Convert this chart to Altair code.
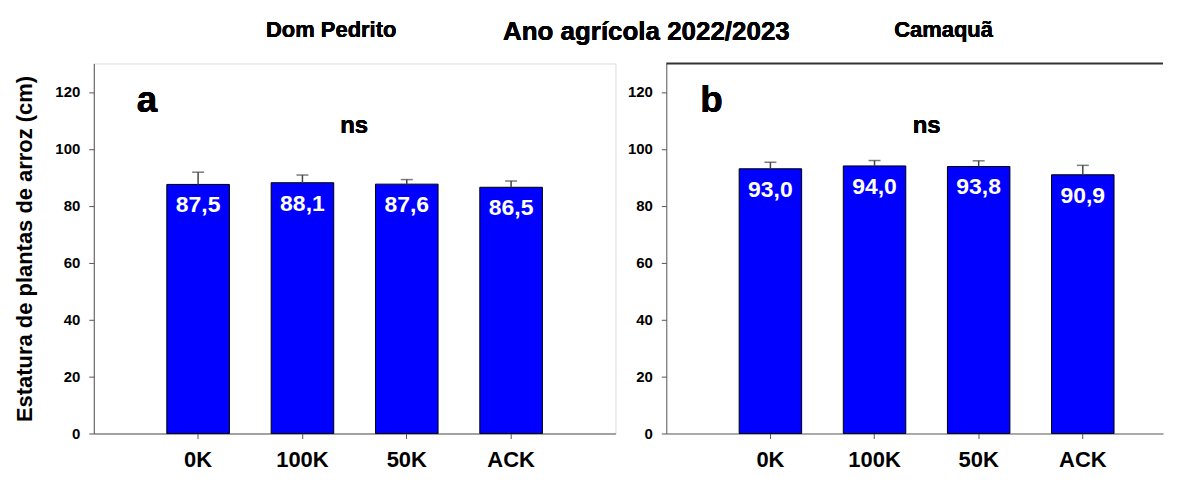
import altair as alt
import pandas as pd

categories = ["0K", "100K", "50K", "ACK"]
dp_values = [87.5, 88.1, 87.6, 86.5]
dp_errors = [4.3, 2.7, 1.6, 2.2]
cq_values = [93.0, 94.0, 93.8, 90.9]
cq_errors = [2.3, 1.9, 2.0, 3.3]
y_ticks = [0, 20, 40, 60, 80, 100, 120]

FONT = "Liberation Sans"
H = 371
W_LEFT = 523
W_RIGHT = 498


def panel(values, errors, letter, width, pad_outer, align, show_title, extra_titles):
    df = pd.DataFrame({
        "cat": categories,
        "val": values,
        "top": [v + e for v, e in zip(values, errors)],
        "label": [f"{v:.1f}".replace(".", ",") for v in values],
    })
    xscale = alt.Scale(domain=categories, paddingInner=0.4, paddingOuter=pad_outer, align=align)
    yscale = alt.Scale(domain=[0, 130], nice=False, zero=True)
    x = alt.X("cat:N", scale=xscale, sort=categories,
              axis=alt.Axis(title=None, labelAngle=0, labelFont=FONT, labelFontSize=22,
                            labelFontWeight="bold", labelColor="black", labelPadding=11,
                            tickSize=5, tickColor="#555", domainColor="#555", grid=False))
    yaxis = alt.Axis(values=y_ticks, labelFont=FONT, labelFontSize=15, labelFontWeight="bold",
                     labelColor="black", labelPadding=9, tickSize=5, tickColor="#555",
                     domainColor="#555", grid=False,
                     title="Estatura de plantas de arroz (cm)" if show_title else None,
                     titleFont=FONT, titleFontSize=22, titleFontWeight="bold",
                     titleColor="black", titlePadding=18)
    y = alt.Y("val:Q", scale=yscale, axis=yaxis)
    base = alt.Chart(df)
    bars = base.mark_bar(color="#0000FF", stroke="black", strokeWidth=1).encode(x=x, y=y)
    err = base.mark_rule(color="#444", strokeWidth=1.5).encode(x="cat:N", y="val:Q", y2="top:Q")
    cap = base.mark_tick(color="#444", size=12, thickness=1.5).encode(x="cat:N", y="top:Q")
    labels = base.mark_text(color="white", font=FONT, fontSize=23, fontWeight="bold",
                            baseline="middle", dy=21).encode(x="cat:N", y="val:Q", text="label:N")
    ns = base.mark_text(font=FONT, fontSize=24, fontWeight="bold", baseline="middle").encode(
        x=alt.value(261), y=alt.datum(108), text=alt.value("ns"))
    let = base.mark_text(font=FONT, fontSize=37, fontWeight="bold", align="left",
                         baseline="alphabetic").encode(
        x=alt.value(letter[1]), y=alt.datum(113), text=alt.value(letter[0]))
    layers = [bars, err, cap, labels, ns, let]
    for txt, xp, yp, fs in extra_titles:
        layers.append(base.mark_text(font=FONT, fontSize=fs, fontWeight="bold",
                                     baseline="alphabetic", align="center").encode(
            x=alt.value(xp), y=alt.value(yp), text=alt.value(txt)))
    return alt.layer(*layers).properties(width=width, height=H)


left = panel(dp_values, dp_errors, ("a", 43), W_LEFT, 0.7, 0.5, True,
             [("Dom Pedrito", 238, -27, 22), ("Ano agrícola 2022/2023", 554, -24, 26)])
right_frame = alt.Chart(pd.DataFrame({"k": [0]})).mark_rule(color="#333", strokeWidth=2).encode(
    x=alt.value(0), x2=alt.value(W_RIGHT), y=alt.value(0))
right = alt.layer(
    panel(cq_values, cq_errors, ("b", 34), W_RIGHT, 0.585, 0.598, False, [("Camaquã", 278, -27, 22)]),
    right_frame,
).properties(view=alt.ViewBackground(stroke="transparent"))

chart = alt.hconcat(left, right, spacing=51, bounds="flush").properties(
    padding={"left": 5, "top": 9, "right": 5, "bottom": 0}
).configure_view(stroke="#333", strokeWidth=1).configure(background="white")

chart.save("out.html", embed_options={"renderer": "svg", "actions": False})
